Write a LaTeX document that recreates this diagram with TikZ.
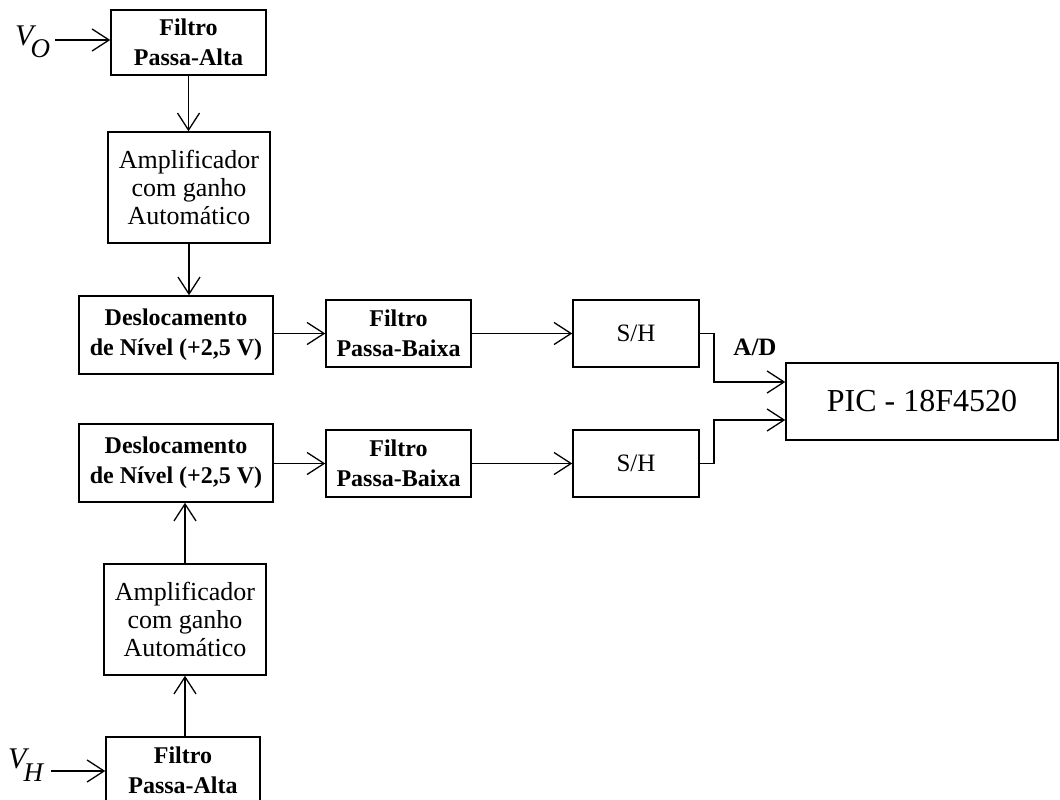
\documentclass[tikz,border=0pt]{standalone}
\usepackage{fontspec}
\setmainfont{Liberation Serif}
\usetikzlibrary{arrows.meta}
\tikzset{
  blk/.style={draw, line width=1.5pt, align=center, inner sep=0pt, rectangle},
  boldtxt/.style={font=\fontsize{24}{30}\selectfont\bfseries},
  ampltxt/.style={font=\fontsize{26}{28}\selectfont},
  conn/.style={line width=1.5pt, -{Straight Barb[length=17pt,width=22pt,line width=1.3pt]}},
  wire/.style={line width=1.5pt}
}
\begin{document}
\begin{tikzpicture}[x=1pt,y=-1pt]
\clip (0,0) rectangle (1060,800);
\fill[white] (0,0) rectangle (1060,800);

% top chain
\node[blk,boldtxt,minimum width=155pt,minimum height=65pt] (fpa1) at (188.5,42.5) {Filtro\\Passa-Alta};
\node[blk,ampltxt,minimum width=162pt,minimum height=111pt] (amp1) at (189,187.5) {Amplificador\\com ganho\\Automático};
\node[blk,boldtxt,minimum width=194pt,minimum height=78pt] (des1) at (176,335) {Deslocamento\\de Nível (+2,5 V)};
\node[blk,boldtxt,minimum width=145pt,minimum height=67pt] (fpb1) at (398.5,333.5) {Filtro\\Passa-Baixa};
\node[blk,font=\fontsize{25}{30}\selectfont,minimum width=126pt,minimum height=67pt] (sh1) at (636,333.5) {S/H};

% PIC
\node[blk,font=\fontsize{32}{36}\selectfont,minimum width=272pt,minimum height=77pt] (pic) at (922,401.5) {PIC - 18F4520};
\node[font=\fontsize{25}{28}\selectfont\bfseries] (ad) at (755,347) {A/D};

% bottom chain
\node[blk,boldtxt,minimum width=194pt,minimum height=78pt] (des2) at (176,463) {Deslocamento\\de Nível (+2,5 V)};
\node[blk,boldtxt,minimum width=145pt,minimum height=67pt] (fpb2) at (398.5,463.5) {Filtro\\Passa-Baixa};
\node[blk,font=\fontsize{25}{30}\selectfont,minimum width=126pt,minimum height=67pt] (sh2) at (636,463.5) {S/H};
\node[blk,ampltxt,minimum width=162pt,minimum height=111pt] (amp2) at (185,619.5) {Amplificador\\com ganho\\Automático};
\node[blk,boldtxt,minimum width=154pt,minimum height=66pt] (fpa2) at (183,770) {Filtro\\Passa-Alta};

% inputs
\node[anchor=base west,inner sep=0pt,font=\fontsize{30}{30}\selectfont\itshape] (vo) at (15,46) {V\kern-3pt\raisebox{-12pt}{\fontsize{27}{28}\selectfont O}};
\node[anchor=base west,inner sep=0pt,font=\fontsize{30}{30}\selectfont\itshape] (vh) at (8,768) {V\kern-3pt\raisebox{-13pt}{\fontsize{27}{28}\selectfont H}};
\coordinate (vostart) at (55,40);
\coordinate (vhstart) at (51,771);

\draw[conn] (vostart) -- (vostart -| fpa1.west);
\draw[conn] (vhstart) -- (vhstart -| fpa2.west);

% vertical connectors
\draw[conn] (fpa1.south) -- (fpa1.south |- amp1.north);
\draw[conn] (amp1.south) -- (amp1.south |- des1.north);
\draw[conn] (amp2.south |- fpa2.north) -- (amp2.south);
\draw[conn] (amp2.north) -- (amp2.north |- des2.south);

% horizontal connectors
\draw[conn] (des1.east |- fpb1.west) -- (fpb1.west);
\draw[conn] (fpb1.east) -- (sh1.west);
\draw[conn] (des2.east |- fpb2.west) -- (fpb2.west);
\draw[conn] (fpb2.east) -- (sh2.west);

% to PIC
\coordinate (j1) at (714,333.5);
\coordinate (j2) at (714,463.5);
\draw[conn] (sh1.east) -- (j1) |- ([yshift=19.5pt]pic.west);
\draw[conn] (sh2.east) -- (j2) |- ([yshift=-18.5pt]pic.west);
\end{tikzpicture}
\end{document}
